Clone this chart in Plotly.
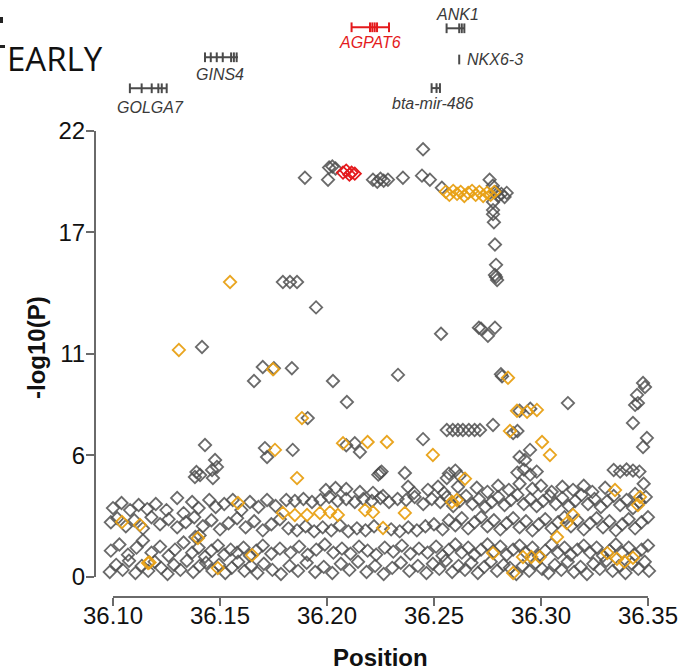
import plotly.graph_objects as go

# ------------------------------------------------------------------ data
# grey SNPs (position in Mb, -log10 P)
gray_band_a = [
    (36.0985, 0.25), (36.1015, 0.6), (36.1045, 0.35), (36.1075, 0.8), (36.1105, 0.2), (36.1135, 0.55),
    (36.1165, 0.3), (36.1195, 0.75), (36.1225, 0.45), (36.1255, 0.15), (36.1285, 0.6), (36.1315, 0.35),
    (36.1345, 0.8), (36.1375, 0.25), (36.1405, 0.55), (36.1435, 0.7), (36.1465, 0.3), (36.1495, 0.6),
    (36.1525, 0.2), (36.1555, 0.45), (36.1585, 0.75), (36.1615, 0.3), (36.1645, 0.55), (36.1675, 0.2),
    (36.1705, 0.65), (36.1745, 0.35), (36.1785, 0.15), (36.1825, 0.55), (36.1865, 0.3), (36.1905, 0.7),
    (36.1945, 0.25), (36.1985, 0.5), (36.2025, 0.2), (36.2065, 0.65), (36.2105, 0.35), (36.2145, 0.75),
    (36.2185, 0.25), (36.2225, 0.55), (36.2265, 0.15), (36.2305, 0.45), (36.2345, 0.7), (36.2385, 0.3),
    (36.2425, 0.55), (36.2465, 0.2), (36.2495, 0.65), (36.2525, 0.4), (36.2555, 0.8), (36.2585, 0.25),
    (36.2615, 0.55), (36.2645, 0.35), (36.2675, 0.7), (36.2705, 0.2), (36.2735, 0.5), (36.2765, 0.75),
    (36.2795, 0.3), (36.2825, 0.6), (36.2855, 0.45), (36.2885, 0.15), (36.2915, 0.55), (36.2945, 0.3),
    (36.2975, 0.7), (36.3005, 0.4), (36.3035, 0.2), (36.3065, 0.6), (36.3095, 0.35), (36.3125, 0.75),
    (36.3155, 0.25), (36.3185, 0.5), (36.3215, 0.15), (36.3245, 0.65), (36.3275, 0.4), (36.3305, 0.8),
    (36.3335, 0.3), (36.3365, 0.55), (36.3395, 0.2), (36.3425, 0.65), (36.3455, 0.4), (36.3485, 0.75),
    (36.3505, 0.3),
]
gray_band_b = [
    (36.099, 1.3), (36.103, 1.6), (36.107, 1.1), (36.111, 1.45), (36.114, 1.8), (36.118, 1.2),
    (36.122, 1.5), (36.126, 1.05), (36.129, 1.35), (36.133, 1.7), (36.137, 1.2), (36.140, 1.45),
    (36.143, 1.0), (36.146, 1.3), (36.149, 1.55), (36.152, 1.1), (36.155, 1.35), (36.158, 1.2),
    (36.161, 1.45), (36.164, 1.05), (36.167, 1.3), (36.170, 1.55), (36.174, 1.15), (36.178, 1.4),
    (36.183, 1.2), (36.187, 1.5), (36.191, 1.1), (36.195, 1.35), (36.199, 1.6), (36.203, 1.2),
    (36.207, 1.4), (36.211, 1.15), (36.215, 1.5), (36.219, 1.3), (36.223, 1.1), (36.227, 1.45),
    (36.231, 1.25), (36.235, 1.55), (36.239, 1.15), (36.243, 1.4), (36.247, 1.2), (36.251, 1.5),
    (36.254, 1.05), (36.257, 1.35), (36.260, 1.6), (36.263, 1.2), (36.266, 1.45), (36.269, 1.1),
    (36.272, 1.35), (36.275, 1.6), (36.278, 1.25), (36.281, 1.5), (36.284, 1.1), (36.287, 1.35),
    (36.290, 1.55), (36.293, 1.2), (36.296, 1.45), (36.299, 1.05), (36.302, 1.3), (36.305, 1.6),
    (36.308, 1.2), (36.311, 1.45), (36.314, 1.1), (36.317, 1.35), (36.320, 1.55), (36.323, 1.2),
    (36.326, 1.45), (36.329, 1.05), (36.332, 1.3), (36.335, 1.6), (36.338, 1.2), (36.341, 1.45),
    (36.344, 1.1), (36.347, 1.35), (36.350, 1.55), (36.1385, 1.97), (36.1405, 2.05),
]
gray_band_c = [
    (36.099, 2.7), (36.102, 2.9), (36.106, 2.5), (36.110, 2.8), (36.114, 2.4), (36.118, 2.95),
    (36.122, 2.6), (36.126, 2.85), (36.130, 2.45), (36.134, 2.7), (36.138, 2.95), (36.142, 2.5),
    (36.146, 2.8), (36.150, 2.35), (36.154, 2.65), (36.158, 2.9), (36.162, 2.45), (36.166, 2.75),
    (36.170, 2.3), (36.174, 2.6), (36.178, 2.85), (36.182, 2.4), (36.186, 2.3), (36.190, 2.5),
    (36.194, 2.25), (36.198, 2.45), (36.202, 2.3), (36.206, 2.55), (36.210, 2.25), (36.214, 2.4),
    (36.218, 2.3), (36.222, 2.5), (36.230, 2.35), (36.234, 2.25), (36.238, 2.45), (36.242, 2.3),
    (36.246, 2.5), (36.250, 2.6), (36.254, 2.35), (36.257, 2.8), (36.260, 2.55), (36.263, 2.9),
    (36.266, 2.4), (36.269, 2.7), (36.272, 2.95), (36.275, 2.5), (36.278, 2.8), (36.281, 2.35),
    (36.284, 2.65), (36.287, 2.9), (36.290, 2.45), (36.293, 2.75), (36.296, 2.3), (36.299, 2.6),
    (36.302, 2.85), (36.305, 2.4), (36.308, 2.7), (36.311, 2.95), (36.314, 2.5), (36.317, 2.8),
    (36.320, 2.35), (36.323, 2.65), (36.326, 2.9), (36.329, 2.45), (36.332, 2.75), (36.335, 2.3),
    (36.338, 2.6), (36.341, 2.85), (36.344, 2.4), (36.347, 2.7), (36.350, 2.95),
]
gray_band_d = [
    (36.100, 3.4), (36.104, 3.65), (36.108, 3.3), (36.112, 3.55), (36.116, 3.35), (36.120, 3.6),
    (36.125, 3.3), (36.130, 3.9), (36.133, 3.15), (36.137, 3.7), (36.140, 3.4), (36.145, 3.8),
    (36.148, 3.45), (36.152, 3.6), (36.156, 3.8), (36.160, 3.3), (36.164, 3.7), (36.168, 3.45),
    (36.172, 3.8), (36.176, 3.5), (36.181, 3.8), (36.185, 3.75), (36.189, 3.85), (36.193, 3.7),
    (36.197, 3.8), (36.201, 3.95), (36.205, 3.75), (36.209, 3.85), (36.213, 3.7), (36.217, 3.85),
    (36.221, 3.75), (36.225, 3.9), (36.229, 3.7), (36.233, 3.85), (36.237, 3.8), (36.241, 3.95),
    (36.245, 3.6), (36.249, 3.85), (36.253, 3.7), (36.256, 3.95), (36.259, 3.5), (36.262, 3.75),
    (36.265, 4.0), (36.268, 3.6), (36.271, 3.85), (36.274, 3.45), (36.277, 3.7), (36.280, 3.95),
    (36.283, 3.55), (36.286, 3.8), (36.289, 4.05), (36.292, 3.6), (36.295, 3.85), (36.298, 3.5),
    (36.301, 3.75), (36.304, 4.0), (36.307, 3.6), (36.310, 3.9), (36.313, 3.5), (36.316, 3.75),
    (36.319, 4.05), (36.322, 3.6), (36.325, 3.85), (36.328, 3.45), (36.331, 3.75), (36.334, 4.0),
    (36.337, 3.55), (36.340, 3.8), (36.343, 3.4), (36.346, 3.7), (36.349, 3.95),
]
gray_band_e = [
    (36.1390, 5.18), (36.1383, 4.93), (36.1407, 5.03), (36.1463, 5.28), (36.1467, 4.88), (36.1477, 5.77),
    (36.1486, 5.43), (36.1710, 6.36), (36.1720, 5.92), (36.1430, 6.51),
    (36.1995, 4.29), (36.2040, 4.39), (36.2090, 4.34), (36.2154, 4.19), (36.2215, 4.15), (36.2262, 4.0),
    (36.2248, 5.13), (36.2255, 5.2), (36.2240, 5.05), (36.2364, 5.13), (36.2379, 4.45), (36.2407, 4.15),
    (36.2472, 4.3), (36.2519, 4.45), (36.2547, 4.15), (36.2612, 4.45), (36.2560, 4.88),
    (36.2570, 5.1), (36.2600, 5.25), (36.2620, 5.0), (36.2890, 5.15), (36.2920, 5.3), (36.2950, 5.05),
    (36.2980, 5.2), (36.2700, 4.4), (36.2750, 4.2), (36.2800, 4.5), (36.2850, 4.3), (36.2900, 4.6),
    (36.2960, 4.35), (36.3000, 4.5), (36.3050, 4.2), (36.3100, 4.45), (36.3150, 4.3), (36.3200, 4.5),
    (36.3240, 4.2), (36.3300, 4.4), (36.3340, 5.28), (36.3370, 5.2), (36.3400, 5.3), (36.3430, 5.25),
    (36.3460, 5.2), (36.3480, 4.6), (36.3440, 4.1),
]
gray_high = [
    (36.2949, 6.27), (36.2900, 5.92), (36.2925, 5.77), (36.2449, 6.8), (36.2090, 6.5), (36.2130, 6.6),
    (36.2154, 6.17), (36.1840, 6.27), (36.2776, 7.5), (36.2560, 7.25), (36.2588, 7.25), (36.2612, 7.25),
    (36.2635, 7.25), (36.2663, 7.25), (36.2690, 7.25), (36.2715, 7.25), (36.2870, 7.1), (36.2890, 7.2),
    (36.2900, 8.2), (36.2950, 8.3), (36.3126, 8.58), (36.3430, 7.6), (36.3495, 6.86), (36.3477, 6.41),
    (36.3477, 9.57), (36.3486, 9.37), (36.3449, 8.98), (36.3453, 8.58), (36.3440, 8.49), (36.2813, 10.0),
    (36.2818, 9.9), (36.2332, 9.97), (36.2093, 8.63), (36.2028, 9.67), (36.1659, 9.67), (36.1700, 10.36),
    (36.1752, 10.3), (36.1836, 10.3), (36.1416, 11.35), (36.1910, 7.84), (36.1949, 13.3), (36.1794, 14.55),
    (36.1827, 14.55), (36.1860, 14.55), (36.2533, 12.0), (36.2710, 12.3), (36.2720, 12.25), (36.2752, 11.9),
    (36.2785, 12.3), (36.2785, 16.4), (36.2790, 15.4), (36.2790, 14.8), (36.2795, 14.65), (36.2785, 14.9),
    (36.2776, 18.5), (36.2776, 18.1), (36.2776, 17.9), (36.2780, 17.5), (36.1897, 19.7), (36.2005, 19.6),
    (36.2010, 20.2), (36.2025, 20.25), (36.2040, 20.15), (36.2215, 19.6), (36.2235, 19.5), (36.2250, 19.65),
    (36.2265, 19.55), (36.2285, 19.6), (36.2355, 19.7), (36.2449, 21.1), (36.2444, 19.8), (36.2481, 19.6),
    (36.2537, 19.2), (36.2760, 19.6), (36.2775, 19.3), (36.2790, 19.0), (36.2800, 18.8), (36.2815, 18.9),
    (36.2830, 18.75), (36.2840, 18.95),
]
orange_pts = [
    (36.2555, 19.0), (36.2572, 18.85), (36.2590, 19.05), (36.2608, 18.9), (36.2625, 19.0), (36.2642, 18.8),
    (36.2660, 18.95), (36.2678, 19.05), (36.2695, 18.85), (36.2712, 19.0), (36.2730, 18.8), (36.2748, 18.95),
    (36.2765, 18.85), (36.2782, 19.0),
    (36.1547, 14.55), (36.1308, 11.2), (36.1748, 10.25), (36.2846, 9.83), (36.2888, 8.2), (36.2935, 8.15),
    (36.2981, 8.24), (36.2855, 7.2), (36.1883, 7.84), (36.2075, 6.6), (36.2190, 6.66), (36.2280, 6.66),
    (36.1757, 6.27), (36.2495, 6.02), (36.3005, 6.66), (36.3042, 6.02), (36.1860, 4.88), (36.2645, 4.85),
    (36.1042, 2.71), (36.1126, 2.57), (36.1397, 1.92), (36.1164, 0.69), (36.1171, 0.72), (36.1490, 0.44),
    (36.1650, 1.08), (36.1584, 3.65), (36.1794, 3.16), (36.1850, 3.06), (36.1907, 3.06), (36.1967, 3.16),
    (36.2014, 3.2), (36.2051, 3.06), (36.2178, 3.3), (36.2215, 3.2), (36.2364, 3.16), (36.2262, 2.42),
    (36.2584, 3.7), (36.2607, 3.8), (36.3346, 4.29), (36.3463, 3.95), (36.3453, 3.55), (36.3150, 3.06),
    (36.3120, 2.66), (36.3075, 1.97), (36.2776, 1.18), (36.2916, 0.99), (36.2955, 0.99), (36.2995, 0.99),
    (36.2870, 0.2), (36.3310, 1.18), (36.3355, 0.9), (36.3390, 0.75), (36.3430, 0.95),
]
red_pts = [(36.2075, 19.95), (36.2090, 20.05), (36.2105, 19.85), (36.2115, 19.95), (36.2130, 19.9)]

# gene track (Mb)
gene_names = ["GOLGA7", "GINS4", "AGPAT6", "ANK1", "NKX6-3", "bta-mir-486"]
gene_start = [36.1079, 36.1430, 36.2115, 36.2559, 36.2618, 36.2489]
gene_end = [36.1251, 36.1584, 36.2290, 36.2645, 36.2618, 36.2528]
gene_marks = [
    [36.1079, 36.1134, 36.1181, 36.1212, 36.1228, 36.1251],
    [36.1430, 36.1457, 36.1485, 36.1513, 36.1552, 36.1565, 36.1578],
    [36.2115, 36.2201, 36.2212, 36.2223, 36.2234, 36.2290],
    [36.2559, 36.2618, 36.2630, 36.2642],
    [36.2618],
    [36.2489, 36.2512, 36.2528],
]
gene_highlight = [False, False, True, False, False, False]

x_ticks = [36.10, 36.15, 36.20, 36.25, 36.30, 36.35]
x_ticktext = ["36.10", "36.15", "36.20", "36.25", "36.30", "36.35"]
y_ticks = [0, 6, 11, 17, 22]

# ------------------------------------------------------------------ layout constants
W, H = 684, 670
ML, MR, MT, MB = 95, 20, 0, 73
PW, PH = W - ML - MR, H - MT - MB
X_RANGE = [36.0916, 36.3575]
Y_RANGE = [-0.987, 28.466]

# gene-track row levels and label levels (in y units of the shared axis)
gene_row = [24.11, 25.64, 27.12, 27.07, 25.53, 24.12]
gene_label_y = [23.16, 24.77, 26.36, 27.73, 25.54, 23.37]
gene_label_x = [36.1173, 36.1500, 36.2201, 36.2612, 36.2645, 36.2495]
gene_label_anchor = ["center", "center", "center", "center", "left", "center"]

GRAY = "rgba(80,80,80,0.85)"
ORANGE = "rgba(232,160,20,0.95)"
RED = "#e41a1c"
GENE_GRAY = "#4a4a4a"
AXIS = "#6a6a6a"


def px_x(px):
    return (px - ML) / PW


def px_y(py):
    return (H - MB - py) / PH


fig = go.Figure()

gray_all = gray_band_a + gray_band_b + gray_band_c + gray_band_d + gray_band_e + gray_high
marker_common = dict(symbol="diamond-open", size=9.5)
fig.add_trace(go.Scatter(
    x=[p[0] for p in gray_all], y=[p[1] for p in gray_all], mode="markers",
    marker=dict(color=GRAY, line=dict(width=1.8, color=GRAY), **marker_common),
    hoverinfo="x+y", showlegend=False))
fig.add_trace(go.Scatter(
    x=[p[0] for p in orange_pts], y=[p[1] for p in orange_pts], mode="markers",
    marker=dict(color=ORANGE, line=dict(width=1.8, color=ORANGE), **marker_common),
    hoverinfo="x+y", showlegend=False))
fig.add_trace(go.Scatter(
    x=[p[0] for p in red_pts], y=[p[1] for p in red_pts], mode="markers",
    marker=dict(color=RED, line=dict(width=1.8, color=RED), **marker_common),
    hoverinfo="x+y", showlegend=False))

shapes = []
annotations = []
for i, name in enumerate(gene_names):
    col = RED if gene_highlight[i] else GENE_GRAY
    row = gene_row[i]
    if gene_end[i] > gene_start[i]:
        shapes.append(dict(type="line", xref="x", yref="y", x0=gene_start[i], x1=gene_end[i],
                           y0=row, y1=row, line=dict(color=col, width=2)))
    for m in gene_marks[i]:
        shapes.append(dict(type="line", xref="x", yref="y", x0=m, x1=m,
                           y0=row - 0.24, y1=row + 0.24, line=dict(color=col, width=2)))
    annotations.append(dict(x=gene_label_x[i], y=gene_label_y[i], xref="x", yref="y",
                            text=name, showarrow=False, xanchor=gene_label_anchor[i],
                            yanchor="middle",
                            font=dict(family="Liberation Sans, Arial", size=16,
                                      color=RED if gene_highlight[i] else "#3a3a3a",
                                      style="italic")))

# R-style detached axis lines (only between first and last tick)
shapes.append(dict(type="line", xref="paper", yref="y", x0=0, x1=0, y0=0, y1=22,
                   line=dict(color=AXIS, width=2)))
shapes.append(dict(type="line", xref="x", yref="paper", x0=36.10, x1=36.35, y0=0, y1=0,
                   line=dict(color=AXIS, width=2)))

# fragments of slide text at top-left
shapes.append(dict(type="rect", xref="paper", yref="paper", x0=px_x(0), x1=px_x(3),
                   y0=px_y(23), y1=px_y(17), line=dict(width=0), fillcolor="#222"))
shapes.append(dict(type="rect", xref="paper", yref="paper", x0=px_x(0), x1=px_x(5),
                   y0=px_y(48), y1=px_y(45), line=dict(width=0), fillcolor="#222"))

annotations.append(dict(x=px_x(105), y=px_y(58), xref="paper", yref="paper", text="EARLY",
                        showarrow=False, xanchor="right", yanchor="middle",
                        font=dict(family="Open Sans, Liberation Sans", size=33, color="#111")))
annotations.append(dict(x=px_x(36), y=px_y(348), xref="paper", yref="paper", text="<b>-log10(P)</b>",
                        showarrow=False, textangle=-90, xanchor="center", yanchor="middle",
                        font=dict(family="Liberation Sans, Arial", size=24, color="#111")))
annotations.append(dict(x=36.225, y=px_y(657), xref="x", yref="paper", text="<b>Position</b>",
                        showarrow=False, xanchor="center", yanchor="middle",
                        font=dict(family="Liberation Sans, Arial", size=24, color="#111")))

fig.update_layout(
    width=W, height=H, margin=dict(l=ML, r=MR, t=MT, b=MB, pad=0),
    paper_bgcolor="white", plot_bgcolor="white",
    shapes=shapes, annotations=annotations, showlegend=False,
    xaxis=dict(range=X_RANGE, tickvals=x_ticks, ticktext=x_ticktext, showgrid=False,
               zeroline=False, showline=False, ticks="outside", ticklen=8, tickwidth=2,
               tickcolor=AXIS, ticklabelstandoff=-11,
               tickfont=dict(family="Liberation Sans, Arial", size=24, color="#111")),
    yaxis=dict(range=Y_RANGE, tickvals=y_ticks, showgrid=False, zeroline=False, showline=False,
               ticks="outside", ticklen=8, tickwidth=2, tickcolor=AXIS, ticklabelstandoff=-4,
               tickfont=dict(family="Liberation Sans, Arial", size=24, color="#111")),
)

fig.write_html("out.html")
